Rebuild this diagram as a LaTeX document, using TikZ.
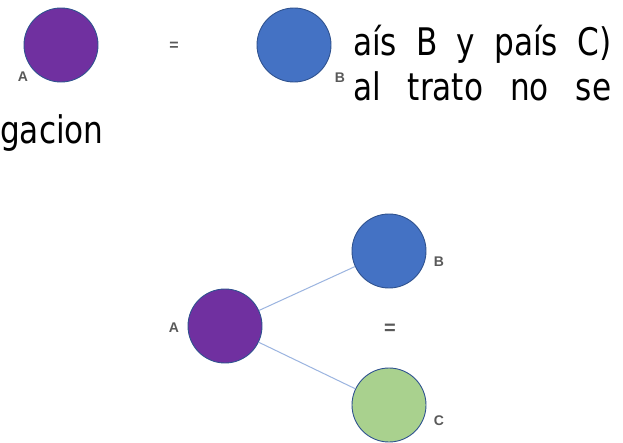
\documentclass[tikz,border=0pt]{standalone}
\usepackage{fontspec}
\setmainfont{DejaVu Sans}
\newfontfamily\bodyfont[FakeStretch=0.82]{DejaVu Sans}
\newfontfamily\lblfont{Liberation Sans}
\definecolor{cpurple}{HTML}{7030A0}
\definecolor{cblue}{HTML}{4472C4}
\definecolor{cgreen}{HTML}{A9D18E}
\definecolor{cedge}{HTML}{2F528F}
\definecolor{cline}{HTML}{9BB4E0}
\definecolor{clabel}{HTML}{595959}
\begin{document}
\begin{tikzpicture}[x=1pt,y=-1pt,
  ball/.style={circle,minimum size=74pt,inner sep=0pt,draw=cedge,line width=0.9pt},
  lbl/.style={font=\lblfont\bfseries\fontsize{14}{14}\selectfont,text=clabel,inner sep=0pt},
  eqsign/.style={font=\lblfont\bfseries\fontsize{20}{20}\selectfont,text=clabel,inner sep=0pt},
  smalleq/.style={font=\lblfont\bfseries\fontsize{16}{16}\selectfont,text=clabel,inner sep=0pt},
  body/.style={font=\bodyfont\fontsize{38}{38}\selectfont,text=black,inner sep=0pt,anchor=base west},
  conn/.style={draw=cline,line width=1pt}]
\useasboundingbox (0,0) rectangle (623,442);
\fill[white] (0,0) rectangle (623,442);
% text lines
\node[body] (t1) at (353,55) {\makebox[258pt][s]{aís B y país C)}};
\node[body] (t2) at (353,100) {\makebox[258pt][s]{al trato no se}};
\node[body] (t3) at (0,143) {gacion};
% top row
\node[ball,fill=cpurple] (ta) at (61,45) {};
\node[ball,fill=cblue] (tb) at (294,45) {};
\node[lbl] (tal) at (23,77) {A};
\node[lbl] (tbl) at (340,78) {B};
\node[smalleq] (teq) at (174,46) {=};
% bottom diagram
\node[ball,fill=cpurple] (a) at (225,326) {};
\node[ball,fill=cblue] (b) at (389,251) {};
\node[ball,fill=cgreen] (c) at (389,405) {};
\draw[conn] (a) -- (b);
\draw[conn] (a) -- (c);
\node[lbl] (al) at (174,328) {A};
\node[lbl] (bl) at (439,262) {B};
\node[lbl] (cl) at (439,421) {C};
\node[eqsign] (eq) at (390,329) {=};
\end{tikzpicture}
\end{document}
